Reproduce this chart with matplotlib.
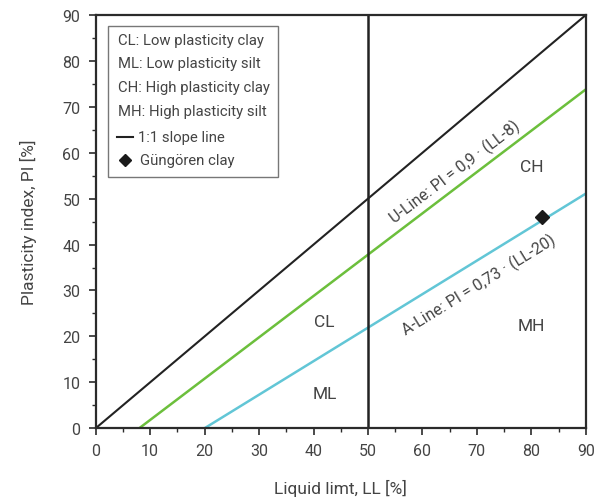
import numpy as np
import matplotlib.pyplot as plt
from matplotlib.lines import Line2D
from matplotlib.patches import Rectangle

plt.rcParams['font.family'] = ['Roboto', 'DejaVu Sans']

# data
one_to_one_ll = [0, 90]
one_to_one_pi = [0, 90]
u_ll = [8, 90]
u_pi = [0.0, 73.8]
a_ll = [20, 90]
a_pi = [0.0, 51.1]
sample_ll = [82]
sample_pi = [46]
zones = ["CH", "CL", "ML", "MH"]
zone_ll = [80, 42, 42, 80]
zone_pi = [57, 23.3, 7.5, 22.3]
legend_text = ["CL: Low plasticity clay", "ML: Low plasticity silt",
               "CH: High plasticity clay", "MH: High plasticity silt"]

txt = '#444444'
frame = '#2b2b2b'
green = '#6cbf3c'
cyan = '#62c6d6'

fig = plt.figure(figsize=(6.02, 5.02), dpi=100)
ax = fig.add_axes([0.159, 0.145, 0.814, 0.823])

ax.plot(one_to_one_ll, one_to_one_pi, color='#222222', lw=1.5)
ax.plot(u_ll, u_pi, color=green, lw=1.8)
ax.plot(a_ll, a_pi, color=cyan, lw=1.8)
ax.axvline(50, color='#222222', lw=1.8)
ax.plot(sample_ll, sample_pi, 'D', color='#1a1a1a', ms=7)

for name, x, y in zip(zones, zone_ll, zone_pi):
    ax.text(x, y, name, fontsize=12.5, color=txt, ha='center', va='center')

ax.text(66, 56, "U-Line: PI = 0,9 \u00b7 (LL-8)", fontsize=11.5, color=txt,
        ha='center', va='center', rotation=np.degrees(np.arctan(0.9)),
        rotation_mode='anchor', transform_rotates_text=True)
ax.text(70.3, 31.4, "A-Line: PI = 0,73 \u00b7 (LL-20)", fontsize=11.5, color=txt,
        ha='center', va='center', rotation=np.degrees(np.arctan(0.73)),
        rotation_mode='anchor', transform_rotates_text=True)

ax.set_xlim(0, 90)
ax.set_ylim(0, 90)
ax.set_xticks(np.arange(0, 91, 10))
ax.set_yticks(np.arange(0, 91, 10))
ax.set_xticks(np.arange(0, 91, 5), minor=True)
ax.set_yticks(np.arange(0, 91, 5), minor=True)
ax.tick_params(which='major', direction='out', length=5, width=1.2, color=frame,
               labelsize=11.5, labelcolor=txt, pad=6)
ax.tick_params(which='minor', direction='out', length=3, width=1.0, color=frame)
for s in ax.spines.values():
    s.set_color(frame)
    s.set_linewidth(1.6)

ax.set_xlabel("Liquid limt, LL [%]", fontsize=12.5, color=txt, labelpad=15)
ax.set_ylabel("Plasticity index, PI [%]", fontsize=12.5, color=txt, labelpad=18)

# legend box
ax.add_patch(Rectangle((0.0245, 0.608), 0.3465, 0.365, transform=ax.transAxes,
                       fill=True, facecolor='white', edgecolor='#777777', lw=1.0, zorder=5))
rows = [0.939, 0.883, 0.825, 0.767, 0.706, 0.648]
for label, y in zip(legend_text, rows[:4]):
    ax.text(0.045, y, label, transform=ax.transAxes, fontsize=10.7, color=txt,
            va='center', zorder=6)
ax.add_line(Line2D([0.043, 0.077], [rows[4], rows[4]], transform=ax.transAxes,
                   color='#222222', lw=1.5, zorder=6))
ax.text(0.086, rows[4], "1:1 slope line", transform=ax.transAxes, fontsize=10.7,
        color=txt, va='center', zorder=6)
ax.add_line(Line2D([0.06], [rows[5]], transform=ax.transAxes, marker='D',
                   color='#1a1a1a', ms=6, zorder=6))
ax.text(0.09, rows[5], "Güngören clay", transform=ax.transAxes, fontsize=10.7,
        color=txt, va='center', zorder=6)

fig.savefig('out.png', dpi=100)
